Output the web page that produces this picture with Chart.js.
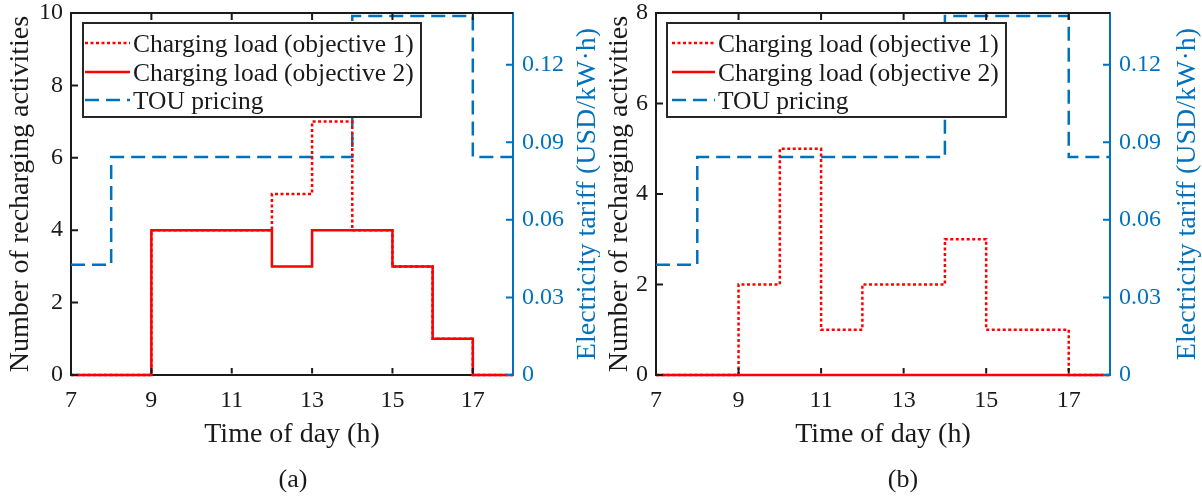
<!DOCTYPE html>
<html>
<head>
<meta charset="utf-8">
<script src="https://cdn.jsdelivr.net/npm/chart.js@4.4.1/dist/chart.umd.min.js"></script>
<style>
  body { margin: 0; background: #fff; }
  #wrap { position: relative; width: 1202px; height: 498px; }
  canvas { position: absolute; top: 0; }
</style>
</head>
<body>
<div id="wrap">
  <canvas id="chartA" width="600" height="498" style="left:0;width:600px;height:498px"></canvas>
  <canvas id="chartB" width="602" height="498" style="left:600px;width:602px;height:498px"></canvas>
</div>
<script>
// hourly values, each one holds from that hour to the next (last entry closes the step at 18 h)
const hours = [7, 8, 9, 10, 11, 12, 13, 14, 15, 16, 17, 18];
const xTickLabels = [7, 9, 11, 13, 15, 17];
const touPrice = [0.0426, 0.0843, 0.0843, 0.0843, 0.0843, 0.0843, 0.0843, 0.1388, 0.1388, 0.1388, 0.0843, 0.0843];
const priceTicks = [0, 0.03, 0.06, 0.09, 0.12];

// panel (a)
const loadObj1A = [0, 0, 4, 4, 4, 5, 7, 4, 3, 1, 0, 0];
const loadObj2A = [0, 0, 4, 4, 4, 3, 4, 4, 3, 1, 0, 0];
const countTicksA = [0, 2, 4, 6, 8, 10];

// panel (b)
const loadObj1B = [0, 0, 2, 5, 1, 2, 2, 3, 1, 1, 0, 0];
const loadObj2B = [0, 0, 0, 0, 0, 0, 0, 0, 0, 0, 0, 0];
const countTicksB = [0, 2, 4, 6, 8];

const seriesLabels = ['Charging load (objective 1)', 'Charging load (objective 2)', 'TOU pricing'];

const RED = '#ff0000';
const BLUE = '#0072bd';
const AXIS = '#1a1a1a';
const SERIF = "'Liberation Serif', 'Times New Roman', serif";
const TICK = 7;

function toPoints(values) {
  return hours.map((h, i) => ({ x: h, y: values[i] }));
}

// box, inward ticks (MATLAB style)
const framePlugin = {
  id: 'frame',
  afterDatasetsDraw(chart) {
    const { ctx, chartArea: a, scales } = chart;
    ctx.save();
    ctx.lineWidth = 2;
    ctx.strokeStyle = AXIS;
    ctx.beginPath();
    ctx.moveTo(a.left - 1, a.top);
    ctx.lineTo(a.right, a.top);
    scales.x.ticks.forEach(t => {
      const px = scales.x.getPixelForValue(t.value);
      ctx.moveTo(px, a.bottom - 1.5);
      ctx.lineTo(px, a.bottom - TICK);
      ctx.moveTo(px, a.top);
      ctx.lineTo(px, a.top + TICK);
    });
    scales.y.ticks.forEach(t => {
      const py = scales.y.getPixelForValue(t.value);
      ctx.moveTo(a.left, py);
      ctx.lineTo(a.left + TICK, py);
    });
    ctx.stroke();
    ctx.strokeStyle = BLUE;
    ctx.beginPath();
    scales.y2.ticks.forEach(t => {
      const py = scales.y2.getPixelForValue(t.value);
      ctx.moveTo(a.right, py);
      ctx.lineTo(a.right - TICK, py);
    });
    ctx.stroke();
    ctx.restore();
  },
  afterDraw(chart) {
    const { ctx, chartArea: a } = chart;
    const o = chart.options.plugins.frame;
    const midY = (a.top + a.bottom) / 2;
    ctx.save();
    ctx.textBaseline = 'alphabetic';
    ctx.textAlign = 'center';

    // x title and caption
    ctx.fillStyle = AXIS;
    ctx.font = '28px ' + SERIF;
    ctx.fillText('Time of day (h)', (a.left + a.right) / 2, 442);
    ctx.font = '26px ' + SERIF;
    ctx.fillText(o.caption, o.captionX, 487);

    // rotated titles, reading bottom to top
    ctx.font = '28px ' + SERIF;
    ctx.save();
    ctx.translate(o.yTitleX, midY);
    ctx.rotate(-Math.PI / 2);
    ctx.fillText('Number of recharging activities', 0, 0);
    ctx.restore();
    ctx.save();
    ctx.fillStyle = BLUE;
    ctx.translate(o.y2TitleX, midY);
    ctx.rotate(-Math.PI / 2);
    ctx.fillText('Electricity tariff (USD/kW\u00b7h)', 0, 0);
    ctx.restore();

    // legend box
    const b = o.legend;
    ctx.fillStyle = '#fff';
    ctx.fillRect(b.left, b.top, b.right - b.left, b.bottom - b.top);
    ctx.lineWidth = 2;
    ctx.strokeStyle = '#262626';
    ctx.strokeRect(b.left, b.top, b.right - b.left, b.bottom - b.top);
    ctx.font = '25.5px ' + SERIF;
    ctx.textAlign = 'left';
    chart.data.datasets.forEach((ds, i) => {
      const y = b.rows[i];
      ctx.save();
      ctx.strokeStyle = ds.borderColor;
      ctx.lineWidth = ds.borderWidth;
      ctx.setLineDash(ds.borderDash || []);
      ctx.beginPath();
      ctx.moveTo(b.sample0, y);
      ctx.lineTo(b.sample1, y);
      ctx.stroke();
      ctx.restore();
      ctx.fillStyle = AXIS;
      ctx.fillText(ds.label, b.textX, y + 8.5);
    });
    ctx.restore();
  }
};

// fixed axis box size, and no extra room reserved for the end labels
function fixWidth(w) {
  return s => { s.width = w; s.paddingTop = 0; s.paddingBottom = 0; };
}

function makeChart(id, cfg) {
  const tickFont = { family: SERIF, size: 24, lineHeight: 1 };
  return new Chart(document.getElementById(id), {
    type: 'line',
    data: {
      datasets: [
        { label: seriesLabels[0], data: toPoints(cfg.obj1), borderColor: RED, borderWidth: 2.5,
          borderDash: [3, 2.5], stepped: 'before', pointRadius: 0, yAxisID: 'y', clip: 6 },
        { label: seriesLabels[1], data: toPoints(cfg.obj2), borderColor: RED, borderWidth: 2.5,
          stepped: 'before', pointRadius: 0, yAxisID: 'y', clip: 6 },
        { label: seriesLabels[2], data: toPoints(touPrice), borderColor: BLUE, borderWidth: 2.5,
          borderDash: [14, 7], stepped: 'before', pointRadius: 0, yAxisID: 'y2', clip: 6 }
      ]
    },
    options: {
      responsive: false,
      animation: false,
      layout: { padding: { top: 13, left: 0, right: 0, bottom: 0 }, autoPadding: false },
      elements: { line: { borderJoinStyle: 'miter', borderCapStyle: 'butt' } },
      plugins: {
        legend: { display: false },
        tooltip: { enabled: false },
        frame: cfg.frame
      },
      scales: {
        x: {
          type: 'linear', min: 7, max: 18,
          grid: { display: false, drawTicks: false },
          border: { color: AXIS, width: 2 },
          ticks: { font: tickFont, color: AXIS, padding: 14, maxRotation: 0 },
          afterBuildTicks: s => { s.ticks = xTickLabels.map(v => ({ value: v })); },
          afterFit: s => { s.height = 498 - 375; s.paddingLeft = 0; s.paddingRight = 0; }
        },
        y: {
          position: 'left', min: 0, max: cfg.yMax,
          grid: { display: false, drawTicks: false },
          border: { color: AXIS, width: 2 },
          ticks: { font: tickFont, color: AXIS, padding: 8 },
          afterBuildTicks: s => { s.ticks = cfg.yTicks.map(v => ({ value: v })); },
          afterFit: fixWidth(cfg.leftW)
        },
        y2: {
          position: 'right', min: 0, max: 0.14,
          grid: { display: false, drawTicks: false },
          border: { color: BLUE, width: 2 },
          ticks: { font: tickFont, color: BLUE, padding: 9,
            callback: v => (v === 0 ? '0' : v.toFixed(2)) },
          afterBuildTicks: s => { s.ticks = priceTicks.map(v => ({ value: v })); },
          afterFit: fixWidth(cfg.rightW)
        }
      }
    },
    plugins: [framePlugin]
  });
}

makeChart('chartA', {
  obj1: loadObj1A, obj2: loadObj2A, yMax: 10, yTicks: countTicksA,
  leftW: 71, rightW: 600 - 513,
  frame: {
    caption: '(a)', captionX: 293, yTitleX: 27.5, y2TitleX: 595,
    legend: { left: 83, top: 23, right: 421, bottom: 117, rows: [43, 72, 100], sample0: 85, sample1: 130, textX: 133 }
  }
});

makeChart('chartB', {
  obj1: loadObj1B, obj2: loadObj2B, yMax: 8, yTicks: countTicksB,
  leftW: 56, rightW: 602 - 510,
  frame: {
    caption: '(b)', captionX: 303, yTitleX: 27, y2TitleX: 595,
    legend: { left: 67, top: 23, right: 406, bottom: 117, rows: [43, 72, 100], sample0: 72, sample1: 115, textX: 118 }
  }
});
</script>
</body>
</html>
